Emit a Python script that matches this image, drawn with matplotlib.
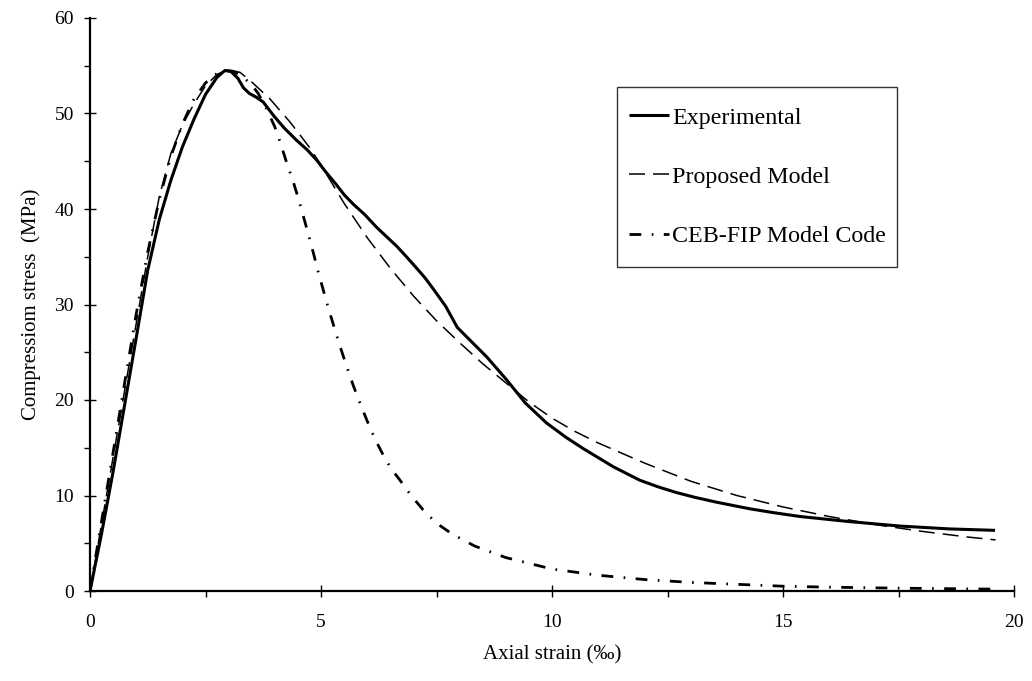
"""Stress-strain curves for confined concrete: test vs. proposed model vs. CEB-FIP."""
import matplotlib
matplotlib.use("Agg")
import matplotlib.pyplot as plt
from matplotlib.patches import Rectangle
from matplotlib.ticker import MultipleLocator

plt.rcParams["font.family"] = ["Liberation Serif", "DejaVu Serif"]
plt.rcParams["lines.scale_dashes"] = False

# --- curves (strain in per-mille, stress in MPa) ---------------------------
exp_strain = [0.0, 0.25, 0.5, 0.75, 1.0, 1.25, 1.5, 1.75, 2.0, 2.25, 2.5,
              2.75, 2.92, 3.05, 3.2, 3.32, 3.45, 3.6, 3.75, 3.97, 4.2, 4.47,
              4.7, 4.91, 5.1, 5.34, 5.5, 5.7, 5.95, 6.2, 6.42, 6.64, 6.85,
              7.07, 7.25, 7.45, 7.7, 7.95, 8.3, 8.59, 9.02, 9.42, 9.88, 10.3,
              10.68, 11.33, 11.9, 12.3, 12.7, 13.1, 13.56, 14.29, 14.8, 15.37,
              16.45, 17.53, 18.61, 19.59]
exp_stress = [0.0, 6.0, 12.5, 19.5, 26.5, 33.6, 38.9, 43.0, 46.5, 49.4, 52.0,
              53.8, 54.5, 54.4, 53.7, 52.7, 52.1, 51.7, 51.2, 49.8, 48.5, 47.2,
              46.2, 45.1, 43.9, 42.5, 41.5, 40.5, 39.4, 38.1, 37.1, 36.1, 35.0,
              33.8, 32.8, 31.5, 29.8, 27.6, 25.9, 24.5, 22.1, 19.7, 17.6, 16.1,
              14.9, 13.0, 11.6, 10.9, 10.3, 9.8, 9.3, 8.6, 8.2, 7.8, 7.26, 6.8,
              6.5, 6.35]

model_strain = [0.0, 0.25, 0.5, 0.75, 1.0, 1.25, 1.5, 1.75, 2.0, 2.25, 2.5,
                2.75, 3.0, 3.25, 3.5, 3.9, 4.33, 4.76, 5.0, 5.5, 6.0, 6.5, 7.0,
                7.5, 8.0, 8.5, 9.0, 9.5, 10.0, 10.5, 11.0, 12.0, 13.0, 14.0,
                15.0, 16.0, 17.0, 18.0, 19.0, 19.6]
model_stress = [0.0, 7.0, 14.0, 21.0, 28.0, 35.0, 41.3, 45.8, 48.8, 51.0, 52.9,
                54.1, 54.6, 54.3, 53.3, 51.5, 49.1, 46.4, 44.6, 40.6, 37.0,
                33.8, 30.9, 28.3, 26.0, 23.8, 21.8, 19.8, 18.1, 16.7, 15.5,
                13.4, 11.5, 10.0, 8.8, 7.8, 6.95, 6.25, 5.65, 5.35]

ceb_strain = [0.0, 0.25, 0.5, 0.75, 1.0, 1.25, 1.5, 1.75, 2.0, 2.25, 2.5, 2.75,
              3.0, 3.25, 3.5, 3.64, 3.82, 4.0, 4.13, 4.26, 4.39, 4.51, 4.62,
              4.73, 4.84, 4.94, 5.05, 5.16, 5.28, 5.4, 5.55, 5.7, 5.85, 6.0,
              6.17, 6.35, 6.52, 6.71, 6.95, 7.21, 7.5, 7.86, 8.33, 9.0, 10.0,
              11.0, 12.0, 13.0, 14.0, 15.0, 16.0, 17.0, 18.0, 19.5]
ceb_stress = [0.0, 7.3, 14.5, 21.8, 29.0, 35.5, 41.0, 45.5, 48.9, 51.5, 53.2,
              54.2, 54.5, 54.1, 53.0, 52.1, 50.5, 48.6, 46.8, 44.8, 43.0, 41.1,
              39.2, 37.3, 35.3, 33.4, 31.5, 29.6, 27.7, 25.8, 23.6, 21.5, 19.6,
              17.8, 15.9, 14.2, 12.8, 11.6, 10.0, 8.5, 7.1, 5.9, 4.7, 3.5, 2.3,
              1.65, 1.2, 0.9, 0.7, 0.5, 0.4, 0.33, 0.27, 0.2]

W, H = 1032, 681
fig = plt.figure(figsize=(W / 100, H / 100), dpi=100)
ax = fig.add_axes([90 / W, 1 - 591 / H, (1014 - 90) / W, (591 - 18) / H])

ax.plot(exp_strain, exp_stress, color="black", lw=2.2, solid_capstyle="butt",
        solid_joinstyle="round", label="Experimental")
ax.plot(model_strain, model_stress, color="black", lw=1.1,
        linestyle=(0, (11.5, 5.8)), label="Proposed Model")
ax.plot(ceb_strain, ceb_stress, color="black", lw=2.0, dash_capstyle="butt",
        linestyle=(0, (8.5, 7.5, 1.2, 7.5)), label="CEB-FIP Model Code")

ax.set_xlim(0, 20)
ax.set_ylim(0, 60)
ax.xaxis.set_major_locator(MultipleLocator(5))
ax.xaxis.set_minor_locator(MultipleLocator(2.5))
ax.yaxis.set_major_locator(MultipleLocator(10))
ax.yaxis.set_minor_locator(MultipleLocator(5))
ax.tick_params(which="major", direction="inout", length=9, width=1.0,
               labelsize=14)
ax.tick_params(axis="x", which="major", pad=12)
ax.tick_params(axis="y", which="major", pad=7)
ax.tick_params(which="minor", direction="out", length=4, width=1.0)
for side in ("top", "right"):
    ax.spines[side].set_visible(False)
for side in ("left", "bottom"):
    ax.spines[side].set_linewidth(1.6)

ax.set_xlabel("Axial strain (\u2030)", fontsize=15, labelpad=10)
ax.set_ylabel("Compressiom stress  (MPa)", fontsize=15, labelpad=10)

# legend box drawn separately so the padding can differ per side
box = (617, 87, 897, 267)
fig.add_artist(Rectangle((box[0] / W, 1 - box[3] / H),
                         (box[2] - box[0]) / W, (box[3] - box[1]) / H,
                         transform=fig.transFigure, fill=False,
                         edgecolor="#333333", linewidth=1.0))
ax.legend(loc="center", bbox_to_anchor=((box[0] + box[2]) / 2 / W + 0.0005,
                                        1 - (box[1] + box[3]) / 2 / H),
          bbox_transform=fig.transFigure, fontsize=17.3, frameon=False,
          handlelength=1.66, handletextpad=0.12, labelspacing=1.55,
          borderpad=0, borderaxespad=0)

fig.savefig("out.png", dpi=100)
